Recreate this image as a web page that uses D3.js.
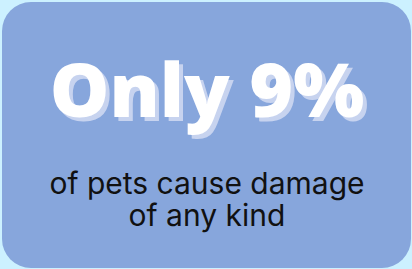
<!DOCTYPE html>
<html>
<head>
<meta charset="utf-8">
<script src="https://cdn.jsdelivr.net/npm/d3@7"></script>
<style>
  html, body { margin: 0; padding: 0; background: #ccf1ff; }
  svg { display: block; }
</style>
</head>
<body>
<div id="chart"></div>
<script>
// stat card data
const shareValue = [9];
const headlinePrefix = ["Only"];
const subLines = ["of pets cause damage", "of any kind"];

var width = 412, height = 269;

var svg = d3.select("#chart").append("svg")
    .attr("width", width)
    .attr("height", height);

// card background
svg.append("rect")
    .attr("x", 2)
    .attr("y", 2)
    .attr("width", 409)
    .attr("height", 266)
    .attr("rx", 29)
    .attr("ry", 29)
    .style("fill", "#87a6dc");

const headline = headlinePrefix[0] + " " + d3.format("d")(shareValue[0]) + "%";

// big number, with a flat offset shadow
svg.append("text")
    .attr("x", 207)
    .attr("y", 117)
    .attr("text-anchor", "middle")
    .style("font-family", "'Open Sans', sans-serif")
    .style("font-weight", 800)
    .style("font-size", "75px")
    .style("fill", "#ffffff")
    .style("text-shadow", "4px 4px 0 #c7d3ef")
    .text(headline);

// caption, one text block with a tspan per line
const caption = svg.append("text")
    .attr("x", 207)
    .attr("y", 194)
    .attr("text-anchor", "middle")
    .style("font-family", "Inter, sans-serif")
    .style("font-size", "30px")
    .style("fill", "#111111");

caption.selectAll("tspan")
    .data(subLines)
  .enter().append("tspan")
    .attr("x", 207)
    .attr("dy", function(d, i) { return i === 0 ? 0 : 32; })
    .text(function(d) { return d; });
</script>
</body>
</html>
